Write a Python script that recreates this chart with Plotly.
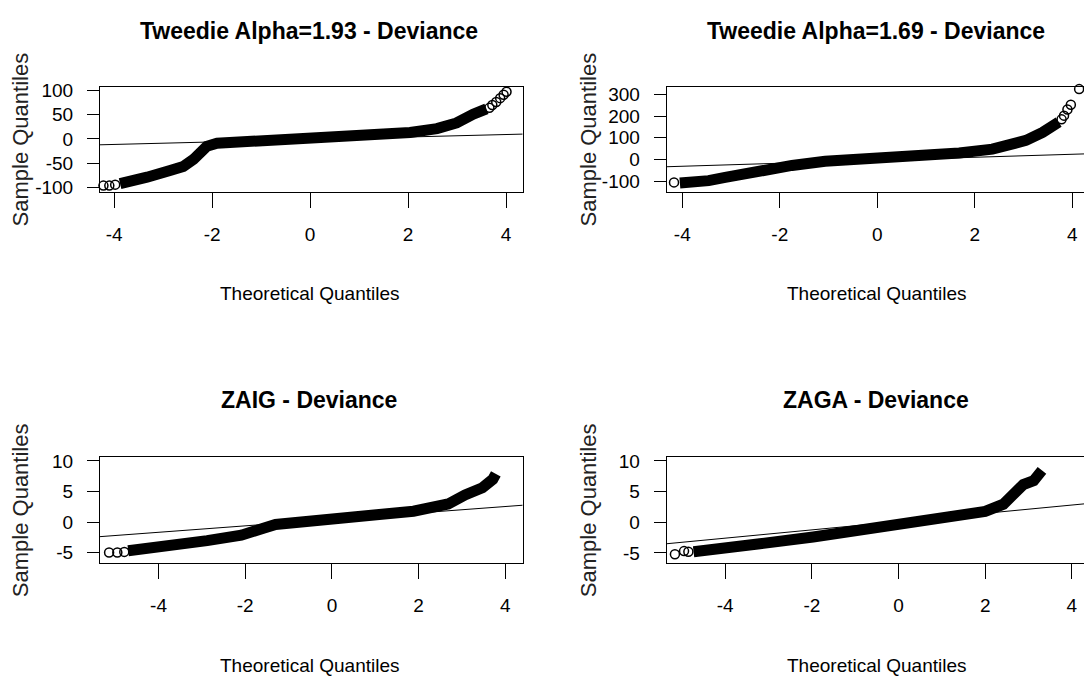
import plotly.graph_objects as go

W, H = 1084, 689

# ---------------- data ----------------
titles = ["Tweedie Alpha=1.93 - Deviance", "Tweedie Alpha=1.69 - Deviance",
          "ZAIG - Deviance", "ZAGA - Deviance"]
x_label = "Theoretical Quantiles"
y_label = "Sample Quantiles"
x_ticks = [-4, -2, 0, 2, 4]
x_ticktext = ["-4", "-2", "0", "2", "4"]

# Panel 1: Tweedie alpha 1.93
tw193_theo = [-3.88, -3.81, -3.33, -2.86, -2.59, -2.38, -2.24, -2.11, -1.9, -1.29, -0.54,
              0.0, 0.75, 1.5, 2.04, 2.59, 2.99, 3.33, 3.6]
tw193_samp = [-92, -90.7, -78.7, -65, -56.7, -42, -28.7, -15, -8.7, -5.3, -2,
              0, 4, 7.3, 13.3, 21.3, 33, 51, 62]
tw193_tail_theo = [-4.22, -4.1, -3.98, 3.66, 3.72, 3.8, 3.88, 3.95, 4.01]
tw193_tail_samp = [-96, -96, -94, 64, 70, 76, 84, 91, 97]
tw193_line_theo = [-4.29, 4.34]
tw193_line_samp = [-12, 10]
tw193_yticks = [-100, -50, 0, 50, 100]
tw193_yticktext = ["-100", "-50", "0", "50", "100"]

# Panel 2: Tweedie alpha 1.69
tw169_theo = [-4.05, -3.8, -3.46, -3.12, -2.43, -1.75, -1.07, 0.0, 0.99, 1.68, 2.36, 2.7,
              3.05, 3.39, 3.6, 3.72]
tw169_samp = [-108, -106, -97, -82, -52, -27, -8, 3, 18, 30, 48, 65,
              88, 125, 155, 172]
tw169_tail_theo = [-4.17, 3.78, 3.83, 3.9, 3.97, 4.14]
tw169_tail_samp = [-105, 185, 202, 230, 252, 324]
tw169_line_theo = [-4.32, 4.24]
tw169_line_samp = [-33, 26]
tw169_yticks = [-100, 0, 100, 200, 300]
tw169_yticktext = ["-100", "0", "100", "200", "300"]

# Panel 3: ZAIG
zaig_theo = [-4.7, -4.0, -2.88, -2.09, -1.8, -1.6, -1.3, -0.5, 0.0, 1.09, 1.88, 2.44,
             2.68, 3.07, 3.47, 3.71, 3.78]
zaig_samp = [-4.7, -4.2, -3.05, -2.15, -1.7, -1.07, -0.4, 0.27, 0.48, 1.23, 1.77, 2.3,
             2.95, 4.45, 5.6, 7.0, 7.9]
zaig_tail_theo = [-5.14, -4.95, -4.79]
zaig_tail_samp = [-5.0, -5.0, -4.9]
zaig_line_theo = [-5.35, 4.40]
zaig_line_samp = [-2.4, 2.75]
zaig_yticks = [-5, 0, 5, 10]
zaig_yticktext = ["-5", "0", "5", "10"]

# Panel 4: ZAGA
zaga_theo = [-4.73, -3.96, -3.2, -1.97, -0.89, 0.0, 0.65, 1.42, 2.0, 2.42, 2.69, 2.88,
             3.12, 3.31]
zaga_samp = [-4.8, -4.3, -3.5, -2.4, -1.34, -0.4, 0.27, 0.96, 1.77, 2.95, 4.55, 6.16,
             6.8, 8.47]
zaga_tail_theo = [-5.16, -4.95, -4.85]
zaga_tail_samp = [-5.2, -4.7, -4.8]
zaga_line_theo = [-5.35, 4.28]
zaga_line_samp = [-3.5, 3.0]
zaga_yticks = [-5, 0, 5, 10]
zaga_yticktext = ["-5", "0", "5", "10"]

# ---------------- layout geometry (pixels) ----------------
boxes = [  # left, right, top, bottom
    (100, 522.7, 81.7, 188.3),
    (666.7, 1084, 81.7, 188.3),
    (100, 522.7, 459, 566.7),
    (666.7, 1084, 459, 566.7),
]
x_ranges = [[-4.29, 4.34], [-4.32, 4.24], [-5.35, 4.40], [-5.35, 4.28]]
y_ranges = [[-108.6, 106.6], [-148, 333], [-6.72, 10.6], [-6.64, 10.59]]
title_pos = [(309, 24), (876, 24), (309, 401), (876, 401)]
xlab_pos = [(310, 291.5), (877, 291.5), (310, 671), (877, 671)]
ylab_x = [20, 588, 20, 588]

panels = [
    (tw193_theo, tw193_samp, tw193_tail_theo, tw193_tail_samp, tw193_line_theo, tw193_line_samp, tw193_yticks, tw193_yticktext),
    (tw169_theo, tw169_samp, tw169_tail_theo, tw169_tail_samp, tw169_line_theo, tw169_line_samp, tw169_yticks, tw169_yticktext),
    (zaig_theo, zaig_samp, zaig_tail_theo, zaig_tail_samp, zaig_line_theo, zaig_line_samp, zaig_yticks, zaig_yticktext),
    (zaga_theo, zaga_samp, zaga_tail_theo, zaga_tail_samp, zaga_line_theo, zaga_line_samp, zaga_yticks, zaga_yticktext),
]

FONT = "Liberation Sans, Arial, sans-serif"

fig = go.Figure()
layout = dict(width=W, height=H, margin=dict(l=0, r=0, t=0, b=0),
              paper_bgcolor="white", plot_bgcolor="white", showlegend=False)
annotations = []

for i, (bt, bs, tt, ts, lt, ls, yt, ytt) in enumerate(panels):
    n = "" if i == 0 else str(i + 1)
    xa, ya = "x" + n, "y" + n
    L, R, T, B = boxes[i]
    fig.add_trace(go.Scatter(x=bt, y=bs, mode="lines", xaxis=xa, yaxis=ya,
                             line=dict(color="black", width=11), hoverinfo="skip"))
    fig.add_trace(go.Scatter(x=tt, y=ts, mode="markers", xaxis=xa, yaxis=ya, cliponaxis=False,
                             marker=dict(symbol="circle-open", size=9, color="black",
                                         line=dict(width=1.5, color="black"))))
    fig.add_trace(go.Scatter(x=lt, y=ls, mode="lines", xaxis=xa, yaxis=ya,
                             line=dict(color="black", width=1)))
    right_panel = i in (1, 3)
    layout["xaxis" + n] = dict(domain=[L / W, R / W], anchor=ya, range=x_ranges[i],
                               showgrid=False, zeroline=False, showline=True, mirror=True,
                               linecolor="black", linewidth=1,
                               tickmode="array", tickvals=x_ticks, ticktext=x_ticktext,
                               ticks="outside", ticklen=15, tickwidth=1, tickcolor="black",
                               tickfont=dict(family=FONT, size=19, color="black"),
                               ticklabelstandoff=10)
    layout["yaxis" + n] = dict(domain=[1 - B / H, 1 - T / H], anchor=xa, range=y_ranges[i],
                               showgrid=False, zeroline=False, showline=True,
                               mirror=(not right_panel), linecolor="black", linewidth=1,
                               tickmode="array", tickvals=yt, ticktext=ytt,
                               ticks="outside", ticklen=12, tickwidth=1, tickcolor="black",
                               tickfont=dict(family=FONT, size=19, color="black"),
                               ticklabelstandoff=10)
    tx, ty = title_pos[i]
    annotations.append(dict(text="<b>" + titles[i] + "</b>", x=tx / W, y=1 - ty / H,
                            xref="paper", yref="paper", xanchor="center", yanchor="middle",
                            showarrow=False, font=dict(family=FONT, size=23, color="black")))
    lx, ly = xlab_pos[i]
    annotations.append(dict(text=x_label, x=lx / W, y=1 - ly / H,
                            xref="paper", yref="paper", xanchor="center", yanchor="middle",
                            showarrow=False, font=dict(family=FONT, size=19, color="black")))
    annotations.append(dict(text=y_label, x=ylab_x[i] / W, y=1 - ((T + B) / 2) / H,
                            textangle=-90, xref="paper", yref="paper",
                            xanchor="center", yanchor="middle", showarrow=False,
                            font=dict(family=FONT, size=22, color="#222")))

layout["annotations"] = annotations
fig.update_layout(**layout)
fig.write_html("out.html")
